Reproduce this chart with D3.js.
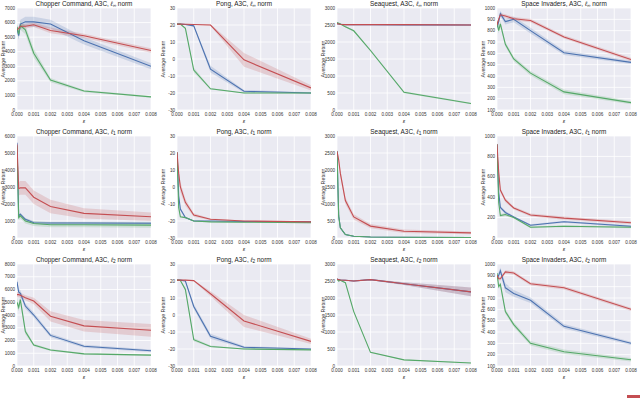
<!DOCTYPE html>
<html>
<head>
<meta charset="utf-8">
<script src="https://cdn.jsdelivr.net/npm/d3@7"></script>
<style>
  body { margin: 0; background: #fff; }
  svg { display: block; font-family: "Liberation Sans", Arial, sans-serif; }
</style>
</head>
<body>
<div class="canvas"></div>
<script>
// epsilon values where the attacks were run
const eps = [0, 0.0001, 0.0002, 0.0005, 0.001, 0.002, 0.004, 0.008];
const xTicks = [0, 0.001, 0.002, 0.003, 0.004, 0.005, 0.006, 0.007, 0.008];

// each chart: [blue, green, red] means, then matching spread
const chopperInf = [
  [5600, 5100, 5900, 6050, 6050, 5900, 4750, 3000],
  [5700, 5200, 5800, 5500, 3900, 2050, 1300, 900],
  [5500, 5600, 5750, 5750, 5850, 5460, 5090, 4080]
];
const chopperInfSd = [
  [300, 300, 300, 350, 350, 300, 250, 200],
  [200, 300, 300, 300, 300, 150, 80, 60],
  [150, 150, 150, 150, 150, 200, 150, 150]
];
const pongInf = [
  [20.5, 20.5, 20.5, 20.3, 19.5, -6, -19, -20],
  [20.5, 20.5, 20.5, 18, -6.5, -17.5, -20, -20],
  [20.5, 20.5, 20.5, 20.4, 20.3, 20, -0.5, -17]
];
const pongInfSd = [
  [0.3, 0.3, 0.3, 0.3, 0.5, 2, 0.8, 0.5],
  [0.3, 0.3, 0.3, 0.5, 1.5, 0.5, 0.3, 0.3],
  [0.3, 0.3, 0.3, 0.3, 0.3, 0.5, 4, 1.5]
];
const seaquestInf = [
  [2540, 2530, 2520, 2510, 2510, 2510, 2505, 2500],
  [2570, 2550, 2530, 2450, 2330, 1750, 520, 190],
  [2540, 2530, 2520, 2510, 2510, 2510, 2510, 2500]
];
const seaquestInfSd = [
  [20, 20, 20, 20, 20, 20, 20, 20],
  [20, 20, 20, 20, 30, 30, 30, 20],
  [20, 20, 20, 20, 20, 20, 20, 20]
];
const invadersInf = [
  [830, 880, 950, 880, 900, 800, 605, 520],
  [880, 800, 860, 680, 550, 425, 260, 165],
  [850, 900, 940, 930, 905, 890, 745, 545]
];
const invadersInfSd = [
  [20, 25, 25, 25, 25, 25, 20, 15],
  [20, 25, 25, 20, 20, 20, 20, 15],
  [15, 15, 15, 15, 15, 15, 15, 15]
];

const chopperL1 = [
  [5600, 1300, 1400, 1100, 900, 880, 880, 870],
  [5400, 1200, 1300, 1000, 850, 780, 780, 760],
  [5500, 2900, 2950, 2950, 2400, 1850, 1450, 1250]
];
const chopperL1Sd = [
  [80, 80, 80, 80, 80, 80, 80, 80],
  [150, 150, 150, 150, 150, 150, 150, 150],
  [300, 400, 400, 400, 400, 400, 300, 250]
];
const pongL1 = [
  [20.5, -5, -13, -18, -20, -20, -20.3, -20.5],
  [20.5, -12, -17.5, -18, -20, -20.5, -20.7, -21],
  [20.5, 8, 0, -9, -16.5, -19, -20, -20.5]
];
const pongL1Sd = [
  [0.3, 1, 1, 0.5, 0.3, 0.3, 0.3, 0.3],
  [0.3, 1, 0.5, 0.3, 0.3, 0.3, 0.3, 0.3],
  [0.3, 3, 3, 2, 1, 0.5, 0.3, 0.3]
];
const seaquestL1 = [
  [2550, 650, 300, 100, 50, 30, 20, 15],
  [2550, 650, 300, 100, 50, 30, 20, 15],
  [2550, 2300, 1900, 1100, 620, 350, 200, 150]
];
const seaquestL1Sd = [
  [30, 30, 20, 10, 10, 10, 10, 10],
  [30, 30, 20, 10, 10, 10, 10, 10],
  [50, 100, 100, 100, 80, 60, 50, 40]
];
const invadersL1 = [
  [920, 450, 300, 250, 205, 125, 160, 115],
  [920, 350, 220, 230, 200, 105, 115, 105],
  [920, 650, 470, 370, 295, 225, 195, 150]
];
const invadersL1Sd = [
  [15, 15, 15, 15, 10, 10, 10, 10],
  [15, 15, 15, 15, 10, 10, 10, 10],
  [15, 20, 20, 20, 15, 15, 15, 15]
];

const chopperL2 = [
  [6600, 5800, 5700, 4700, 4000, 2400, 1550, 1200],
  [5000, 4600, 5200, 2700, 1650, 1250, 950, 850],
  [5600, 5600, 5550, 5350, 5100, 3900, 3150, 2800]
];
const chopperL2Sd = [
  [300, 250, 250, 200, 200, 150, 120, 100],
  [400, 300, 300, 200, 100, 80, 60, 50],
  [200, 200, 200, 200, 250, 400, 450, 500]
];
const pongL2 = [
  [20.5, 20.5, 20.5, 20, 5, -12.5, -19, -20],
  [20.5, 20.5, 20.3, 15, -14.5, -18.5, -20, -20.5],
  [20.5, 20.5, 20.5, 20.5, 20.2, 12.5, -3.5, -15.5]
];
const pongL2Sd = [
  [0.3, 0.3, 0.3, 0.5, 1.5, 1.5, 0.7, 0.5],
  [0.3, 0.3, 0.3, 1, 1, 0.5, 0.3, 0.3],
  [0.3, 0.3, 0.3, 0.3, 0.3, 1.5, 3.5, 1.5]
];
const seaquestL2 = [
  [2560, 2540, 2530, 2520, 2500, 2540, 2420, 2180],
  [2550, 2500, 2520, 2450, 1600, 400, 180, 90],
  [2560, 2540, 2530, 2520, 2500, 2540, 2420, 2180]
];
const seaquestL2Sd = [
  [20, 20, 20, 20, 20, 20, 40, 130],
  [20, 20, 20, 20, 20, 15, 10, 10],
  [20, 20, 20, 20, 20, 20, 40, 130]
];
const invadersL2 = [
  [870, 900, 940, 790, 740, 680, 450, 300],
  [920, 800, 820, 580, 465, 300, 225, 155],
  [900, 870, 870, 930, 920, 825, 790, 600]
];
const invadersL2Sd = [
  [20, 30, 30, 40, 30, 25, 20, 15],
  [20, 20, 20, 20, 20, 20, 20, 15],
  [15, 15, 15, 15, 15, 15, 15, 15]
];

const games = ["Chopper Command", "Pong", "Seaquest", "Space Invaders"];
const norms = ["\u221E", "1", "2"];
const yDomains = [
  [[0, 7000, 1000], [-30, 30, 10], [0, 3000, 500], [100, 1000, 100]],
  [[0, 6000, 1000], [-30, 30, 10], [0, 3000, 500], [0, 1000, 200]],
  [[0, 8000, 1000], [-30, 30, 10], [0, 3000, 500], [100, 1000, 100]]
];
const allData = [
  [[chopperInf, chopperInfSd], [pongInf, pongInfSd], [seaquestInf, seaquestInfSd], [invadersInf, invadersInfSd]],
  [[chopperL1, chopperL1Sd], [pongL1, pongL1Sd], [seaquestL1, seaquestL1Sd], [invadersL1, invadersL1Sd]],
  [[chopperL2, chopperL2Sd], [pongL2, pongL2Sd], [seaquestL2, seaquestL2Sd], [invadersL2, invadersL2Sd]]
];
const colors = ["#4C72B0", "#55A868", "#C44E52"];

const W = 640, H = 398;
const colLeft = [17, 177, 337, 497];
const rowTop = [8, 136, 264];
const pw = 134, ph = 102;

const svg = d3.select(".canvas").append("svg").attr("width", W).attr("height", H);

for (let r = 0; r < 3; r++) {
  for (let c = 0; c < 4; c++) {
    let g = svg.append("g").attr("transform", `translate(${colLeft[c]},${rowTop[r]})`);
    let dom = yDomains[r][c];
    let x = d3.scaleLinear().domain([0, 0.008]).range([0, pw]);
    let y = d3.scaleLinear().domain([dom[0], dom[1]]).range([ph, 0]);
    let yTicks = d3.range(dom[0], dom[1] + dom[2] / 2, dom[2]);

    g.append("rect").attr("width", pw).attr("height", ph).attr("fill", "#EAEAF2");

    // grid
    g.selectAll(".gx").data(xTicks).enter().append("line")
      .attr("x1", d => x(d)).attr("x2", d => x(d)).attr("y1", 0).attr("y2", ph)
      .attr("stroke", "#fff").attr("stroke-width", 0.8);
    g.selectAll(".gy").data(yTicks).enter().append("line")
      .attr("y1", d => y(d)).attr("y2", d => y(d)).attr("x1", 0).attr("x2", pw)
      .attr("stroke", "#fff").attr("stroke-width", 0.8);

    // tick labels
    g.selectAll(".tx").data(xTicks).enter().append("text")
      .attr("x", d => x(d)).attr("y", ph + 5.5)
      .attr("text-anchor", "middle").attr("font-size", 4.6).attr("fill", "#333")
      .text(d => d3.format(".3f")(d));
    g.selectAll(".ty").data(yTicks).enter().append("text")
      .attr("x", -2).attr("y", d => y(d) + 1.6)
      .attr("text-anchor", "end").attr("font-size", 4.6).attr("fill", "#333")
      .text(d => d);

    g.append("text").attr("x", pw / 2).attr("y", ph + 12.5)
      .attr("text-anchor", "middle").attr("font-size", 5.5).attr("font-style", "italic").attr("fill", "#333")
      .text("\u03B5");
    g.append("text")
      .attr("transform", `translate(${-12},${ph / 2}) rotate(-90)`)
      .attr("text-anchor", "middle").attr("font-size", 5.3).attr("fill", "#333")
      .text("Average Return");

    let title = g.append("text").attr("x", pw / 2).attr("y", -2.5)
      .attr("text-anchor", "middle").attr("font-size", 6.4).attr("fill", "#222");
    title.append("tspan").text(games[c] + ", A3C, ");
    title.append("tspan").attr("font-style", "italic").text("\u2113");
    title.append("tspan").attr("font-size", 4.8).attr("dy", 1).text(norms[r]);
    title.append("tspan").attr("dy", -1).text(" norm");

    let clip = "clip" + r + "_" + c;
    g.append("clipPath").attr("id", clip).append("rect").attr("width", pw).attr("height", ph);
    let pg = g.append("g").attr("clip-path", `url(#${clip})`);

    let series = allData[r][c][0], sds = allData[r][c][1];
    for (let s = 0; s < 3; s++) {
      let pts = eps.map((e, i) => ({ e: e, v: series[s][i], sd: sds[s][i] }));
      let area = d3.area().x(d => x(d.e)).y0(d => y(d.v - d.sd)).y1(d => y(d.v + d.sd));
      pg.append("path").datum(pts).attr("d", area)
        .attr("fill", colors[s]).attr("fill-opacity", 0.2);
    }
    for (let s = 0; s < 3; s++) {
      let pts = eps.map((e, i) => ({ e: e, v: series[s][i] }));
      let line = d3.line().x(d => x(d.e)).y(d => y(d.v));
      pg.append("path").datum(pts).attr("d", line)
        .attr("fill", "none").attr("stroke", colors[s]).attr("stroke-width", 1.1);
    }
  }
}

// bit of the legend that sticks in at the bottom right
svg.append("rect").attr("x", 627).attr("y", 395).attr("width", 13).attr("height", 3).attr("fill", colors[2]);
</script>
</body>
</html>
